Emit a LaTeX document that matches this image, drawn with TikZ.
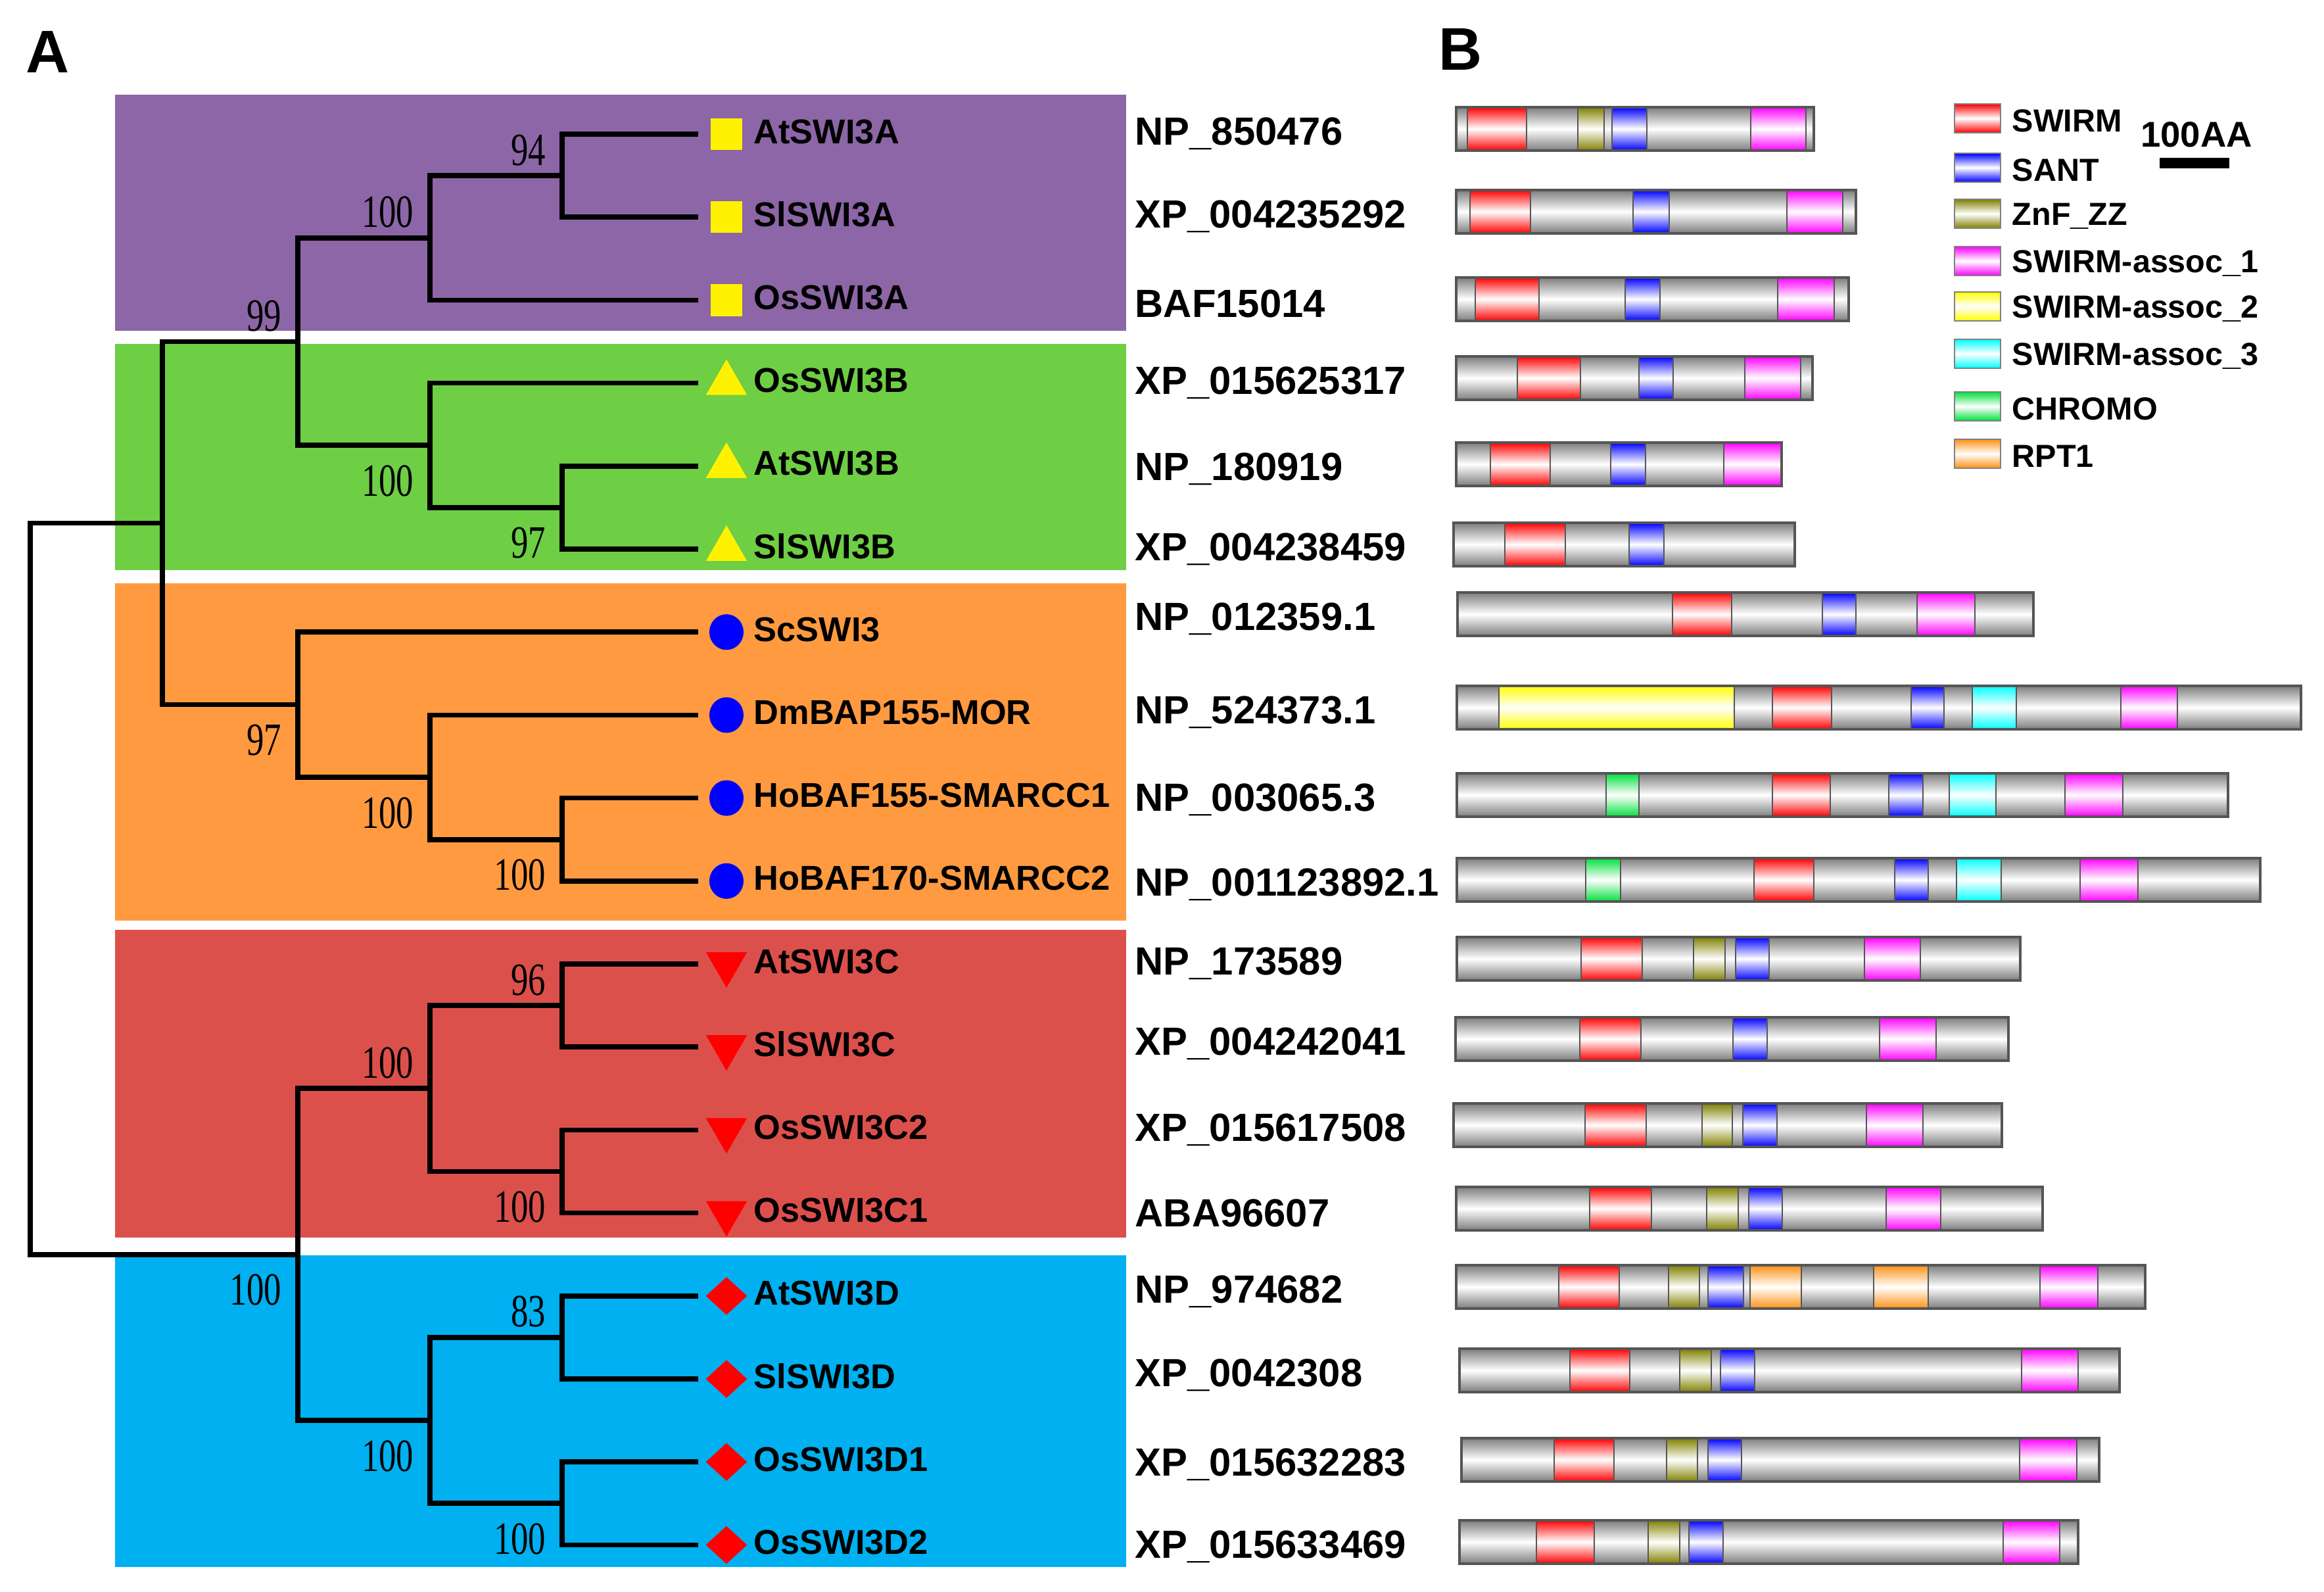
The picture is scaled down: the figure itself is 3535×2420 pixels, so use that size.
\documentclass[tikz,border=0pt]{standalone}
\usepackage{fontspec}
\setmainfont{Liberation Serif}
\newfontfamily\sansfam{Liberation Sans}
\usepackage{graphicx}
\usetikzlibrary{shapes.geometric,calc,positioning}

\definecolor{cladeA}{RGB}{140,102,166}
\definecolor{cladeB}{RGB}{110,206,68}
\definecolor{cladeC}{RGB}{255,154,64}
\definecolor{cladeD}{RGB}{220,80,76}
\definecolor{cladeE}{RGB}{0,176,240}
\definecolor{domr}{RGB}{255,0,0}
\definecolor{domb}{RGB}{0,0,255}
\definecolor{domo}{RGB}{128,128,0}
\definecolor{domm}{RGB}{255,0,255}
\definecolor{domy}{RGB}{255,255,0}
\definecolor{domc}{RGB}{0,255,255}
\definecolor{domg}{RGB}{0,225,60}
\definecolor{domn}{RGB}{255,145,20}
\definecolor{bargray}{RGB}{125,125,125}
\definecolor{baredge}{RGB}{85,85,85}

\begin{document}
\begin{tikzpicture}[x=0.01cm,y=-0.01cm,
  branch/.style={line width=2.2pt,line join=miter},
  boot/.style={font=\fontsize{20}{22}\selectfont,anchor=base east,inner sep=0pt},
  leaf/.style={font=\fontsize{14.9}{16}\selectfont\sansfam\bfseries,anchor=west,inner sep=0pt},
  acc/.style={font=\fontsize{17}{19}\selectfont\sansfam\bfseries,anchor=west,inner sep=0pt},
  legtext/.style={font=\fontsize{13.8}{15}\selectfont\sansfam\bfseries,anchor=west,inner sep=0pt},
  panel/.style={font=\fontsize{26}{28}\selectfont\sansfam\bfseries,inner sep=0pt},
  msq/.style={fill=yellow,minimum size=13.7pt,inner sep=0pt},
  mtri/.style={fill=yellow,regular polygon,regular polygon sides=3,minimum size=20.5pt,inner sep=0pt},
  mdown/.style={fill=red,regular polygon,regular polygon sides=3,shape border rotate=180,minimum size=20.5pt,inner sep=0pt},
  mdot/.style={fill=blue,ellipse,minimum width=14.8pt,minimum height=15.4pt,inner sep=0pt},
  mdia/.style={fill=red,diamond,minimum width=18pt,minimum height=16.5pt,inner sep=0pt},
  tube/.style={top color=#1,bottom color=#1,middle color=white},
]
\useasboundingbox (0,0) rectangle (3535,2420);

% clade boxes
\fill[cladeA] (175,144) rectangle (1713,503);
\fill[cladeB] (175,523) rectangle (1713,867);
\fill[cladeC] (175,887) rectangle (1713,1400);
\fill[cladeD] (175,1414) rectangle (1713,1882);
\fill[cladeE] (175,1909) rectangle (1713,2383);

\node[panel] (pA) at (73,79) {A};
\node[panel] (pB) at (2221,75) {B};

% leaves
\foreach \i/\nm/\mk in {0/AtSWI3A/msq,1/SlSWI3A/msq,2/OsSWI3A/msq,
  3/OsSWI3B/mtri,4/AtSWI3B/mtri,5/SlSWI3B/mtri,
  6/ScSWI3/mdot,7/DmBAP155-MOR/mdot,8/HoBAF155-SMARCC1/mdot,9/HoBAF170-SMARCC2/mdot,
  10/AtSWI3C/mdown,11/SlSWI3C/mdown,12/OsSWI3C2/mdown,13/OsSWI3C1/mdown,
  14/AtSWI3D/mdia,15/SlSWI3D/mdia,16/OsSWI3D1/mdia,17/OsSWI3D2/mdia}{
  \coordinate (l\i) at (1062,{204+126.2*\i});
  \node[\mk] (k\i) at (1105,{204+126.2*\i}) {};
  \node[leaf] (t\i) at (1146,{200+126.2*\i}) {\nm};
}

% inner nodes
\coordinate (a1) at (855,267.1);
\coordinate (a2) at (654,361.75);
\coordinate (b1) at (855,771.9);
\coordinate (b2) at (654,677.25);
\coordinate (ab) at (453,519.5);
\coordinate (h1) at (855,1276.7);
\coordinate (m1) at (654,1182.05);
\coordinate (s1) at (453,1071.6);
\coordinate (top) at (247,795.55);
\coordinate (c1) at (855,1529.1);
\coordinate (c2) at (855,1781.5);
\coordinate (c3) at (654,1655.3);
\coordinate (d1) at (855,2033.9);
\coordinate (d2) at (855,2286.3);
\coordinate (d3) at (654,2160.1);
\coordinate (cd) at (453,1907.7);
\coordinate (root) at (46,1351.6);

\foreach \p/\c in {a1/l0,a1/l1,a2/a1,a2/l2,b1/l4,b1/l5,b2/l3,b2/b1,ab/a2,ab/b2,
  h1/l8,h1/l9,m1/l7,m1/h1,s1/l6,s1/m1,top/ab,top/s1,
  c1/l10,c1/l11,c2/l12,c2/l13,c3/c1,c3/c2,d1/l14,d1/l15,d2/l16,d2/l17,d3/d1,d3/d2,
  cd/c3,cd/d3,root/top,root/cd}
  \draw[branch] (\p) |- (\c);

% bootstrap values
\foreach \n/\v/\dy in {a1/94/-16,a2/100/-16,ab/99/-16,b2/100/77,b1/97/77,s1/97/77,
  m1/100/77,h1/100/77,c1/96/-16,c3/100/-16,c2/100/77,cd/100/77,d1/83/-16,d3/100/77,d2/100/77}
  \node[boot] (bs-\n) at ($(\n)+(-24,\dy)$) {\scalebox{0.75}[1]{\v}};

% domain architecture
\foreach \r/\ry/\acc/\rs/\re/\doms in {
  0/196/NP\_850476/2215/2759/{r/2232/2322,o/2400/2440,b/2452/2505,m/2663/2747},
  1/322/XP\_004235292/2215/2823/{r/2236/2328,b/2484/2539,m/2718/2803},
  2/455/BAF15014/2215/2812/{r/2244/2341,b/2472/2525,m/2704/2790},
  3/575/XP\_015625317/2215/2757/{r/2308/2404,b/2493/2545,m/2654/2739},
  4/706/NP\_180919/2215/2710/{r/2267/2358,b/2450/2503,m/2622/2709},
  5/828/XP\_004238459/2211/2730/{r/2289/2381,b/2478/2531},
  6/934/NP\_012359.1/2217/3093/{r/2544/2634,b/2772/2823,m/2916/3004},
  7/1076/NP\_524373.1/2216/3500/{y/2280/2638,r/2696/2786,b/2907/2957,c/3000/3067,m/3226/3312},
  8/1209/NP\_003065.3/2216/3389/{g/2443/2493,r/2696/2784,b/2873/2925,c/2965/3036,m/3141/3229},
  9/1338/NP\_001123892.1/2216/3438/{g/2412/2465,r/2668/2759,b/2882/2933,c/2976/3044,m/3164/3252},
  10/1458/NP\_173589/2216/3073/{r/2405/2498,o/2576/2624,b/2640/2691,m/2836/2921},
  11/1580/XP\_004242041/2214/3055/{r/2403/2496,b/2636/2688,m/2859/2945},
  12/1711/XP\_015617508/2211/3045/{r/2411/2504,o/2589/2635,b/2651/2703,m/2839/2925},
  13/1838/ABA96607/2215/3107/{r/2418/2512,o/2596/2644,b/2660/2711,m/2869/2952},
  14/1957/NP\_974682/2215/3263/{r/2371/2463,o/2538/2585,b/2598/2652,n/2662/2740,n/2850/2933,m/3103/3191},
  15/2084/XP\_0042308/2220/3224/{r/2388/2479,o/2555/2603,b/2617/2669,m/3075/3161},
  16/2220/XP\_015632283/2223/3193/{r/2364/2455,o/2535/2582,b/2598/2649,m/3072/3159},
  17/2345/XP\_015633469/2220/3161/{r/2337/2425,o/2507/2555,b/2569/2621,m/3047/3133}}{
  \node[acc] (acc\r) at (1726,{\ry+7}) {\acc};
  \shade[tube=bargray] (\rs,{\ry-33}) rectangle (\re,{\ry+33});
  \foreach \dt/\da/\db in \doms {
    \shade[tube=dom\dt] (\da,{\ry-33}) rectangle (\db,{\ry+33});
    \draw[baredge,line width=0.5pt] (\da,{\ry-33}) -- (\da,{\ry+33}) (\db,{\ry-33}) -- (\db,{\ry+33});
  }
  \draw[baredge,line width=1.1pt] (\rs,{\ry-33}) rectangle (\re,{\ry+33});
}

% legend
\foreach \i/\ly/\dt/\lab in {0/180/r/SWIRM,1/255/b/SANT,2/325/o/ZnF\_ZZ,3/397/m/SWIRM-assoc\_1,
  4/466/y/SWIRM-assoc\_2,5/538/c/SWIRM-assoc\_3,6/618/g/CHROMO,7/690/n/RPT1}{
  \shade[tube=dom\dt] (2973,{\ly-22}) rectangle (3043,{\ly+22});
  \draw[gray,line width=0.5pt] (2973,{\ly-22}) rectangle (3043,{\ly+22});
  \node[legtext] (lg\i) at (3060,{\ly+4}) {\lab};
}
\node[font=\fontsize{15.5}{17}\selectfont\sansfam\bfseries,inner sep=0pt] (scl) at (3341,205) {100AA};
\fill (3285,240) rectangle (3391,256);
\end{tikzpicture}
\end{document}
